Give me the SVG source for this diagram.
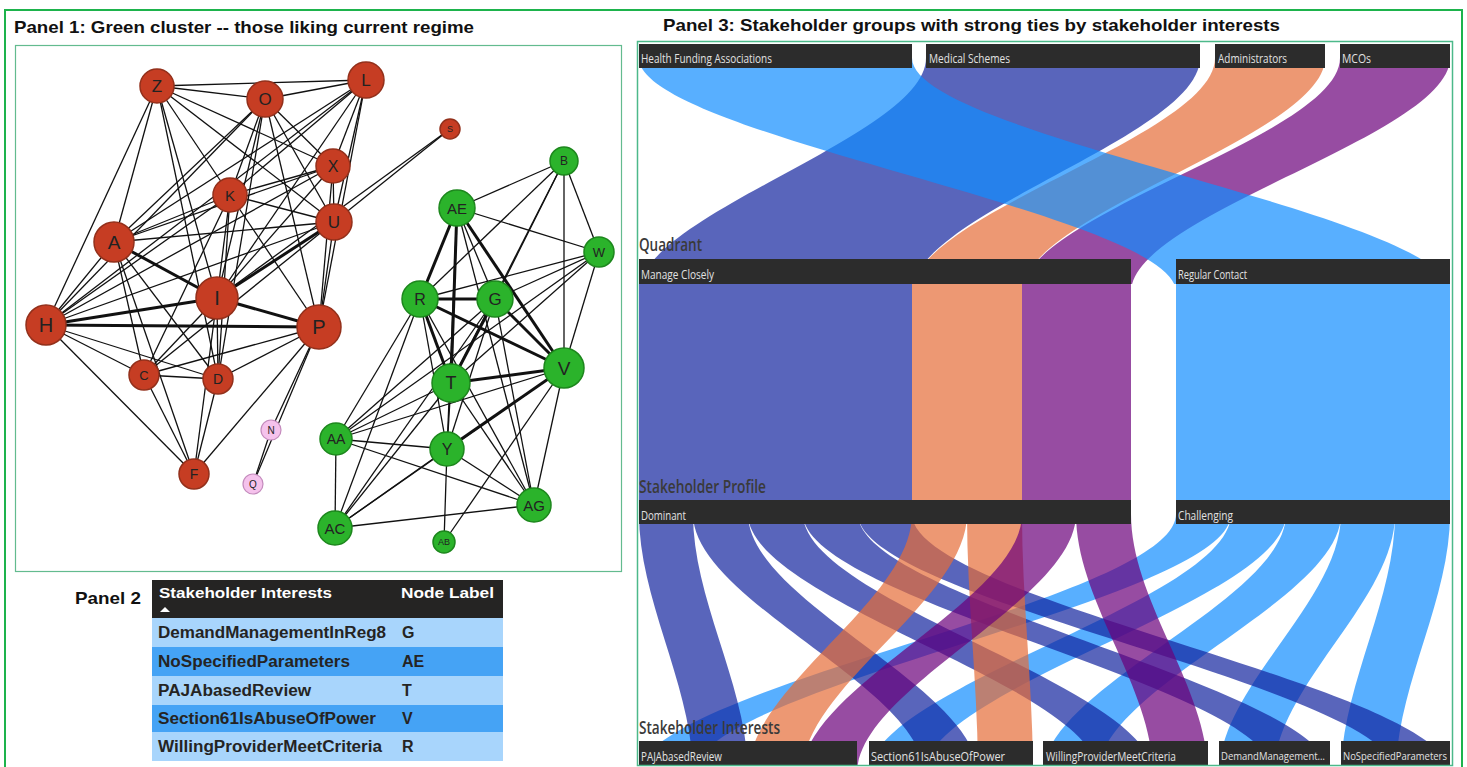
<svg xmlns="http://www.w3.org/2000/svg" width="1467" height="767" viewBox="0 0 1467 767">
<defs>
<style>
.title{font-family:"Liberation Sans",Arial,sans-serif;font-weight:bold;font-size:17px;fill:#111}
.e{stroke:#111;stroke-width:1.3;fill:none}
.t{stroke:#111;stroke-width:3;fill:none}
.nr{fill:#c63d23;stroke:#93301b;stroke-width:1.5}
.ng{fill:#2bb32b;stroke:#1d871d;stroke-width:1.5}
.np{fill:#f5c2ec;stroke:#c48bbd;stroke-width:1.2}
.nl{font-family:"Liberation Sans",Arial,sans-serif;fill:#222;text-anchor:middle;dominant-baseline:central}
.th{font-family:"Liberation Sans",Arial,sans-serif;font-weight:bold;font-size:15px;fill:#fff}
.td{font-family:"Liberation Sans",Arial,sans-serif;font-weight:bold;font-size:16px;fill:#252423}
.bar{fill:#2c2c2c}
.bl{font-family:"Open Sans",sans-serif;font-size:12.5px;fill:#e2e2e2}
.bs{font-family:"Open Sans",sans-serif;font-size:11px;fill:#e2e2e2}
.lv{font-family:"Open Sans",sans-serif;font-weight:600;font-size:18px;fill:#3a3a3a}
.hfa{fill:#118DFF;fill-opacity:.7}
.ms{fill:#12239E;fill-opacity:.7}
.adm{fill:#E66C37;fill-opacity:.7}
.mco{fill:#6B007B;fill-opacity:.7}
</style>
<clipPath id="clipTop"><rect x="637" y="41" width="816" height="243"/></clipPath>
<clipPath id="clipBot"><rect x="637" y="500" width="816" height="266"/></clipPath>
</defs>
<rect x="0" y="0" width="1467" height="767" fill="#fff"/>
<rect x="5" y="10" width="1457" height="762" fill="none" stroke="#1db34c" stroke-width="2"/>

<text class="title" x="14" y="33" textLength="460" lengthAdjust="spacingAndGlyphs">Panel 1: Green cluster -- those liking current regime</text>
<text class="title" x="663" y="31" textLength="617" lengthAdjust="spacingAndGlyphs">Panel 3: Stakeholder groups with strong ties by stakeholder interests</text>

<rect x="15.5" y="45.5" width="606" height="526" fill="#fff" stroke="#63bb8f" stroke-width="1.2"/>

<g id="connectors">
<g id="edges-red">
<line class="e" x1="157" y1="86" x2="265" y2="99"/>
<line class="e" x1="157" y1="86" x2="366" y2="80"/>
<line class="e" x1="157" y1="86" x2="333" y2="166"/>
<line class="e" x1="157" y1="86" x2="334" y2="222"/>
<line class="e" x1="157" y1="86" x2="230" y2="195"/>
<line class="e" x1="157" y1="86" x2="217" y2="298"/>
<line class="e" x1="157" y1="86" x2="114" y2="242"/>
<line class="e" x1="157" y1="86" x2="46" y2="325"/>
<line class="e" x1="157" y1="86" x2="218" y2="379"/>
<line class="e" x1="265" y1="99" x2="366" y2="80"/>
<line class="e" x1="265" y1="99" x2="230" y2="195"/>
<line class="e" x1="265" y1="99" x2="114" y2="242"/>
<line class="e" x1="265" y1="99" x2="46" y2="325"/>
<line class="e" x1="265" y1="99" x2="217" y2="298"/>
<line class="e" x1="265" y1="99" x2="333" y2="166"/>
<line class="e" x1="265" y1="99" x2="334" y2="222"/>
<line class="e" x1="265" y1="99" x2="319" y2="327"/>
<line class="e" x1="265" y1="99" x2="218" y2="379"/>
<line class="e" x1="366" y1="80" x2="333" y2="166"/>
<line class="e" x1="366" y1="80" x2="334" y2="222"/>
<line class="e" x1="366" y1="80" x2="230" y2="195"/>
<line class="e" x1="366" y1="80" x2="114" y2="242"/>
<line class="e" x1="366" y1="80" x2="46" y2="325"/>
<line class="e" x1="366" y1="80" x2="319" y2="327"/>
<line class="e" x1="366" y1="80" x2="217" y2="298"/>
<line class="e" x1="333" y1="166" x2="230" y2="195"/>
<line class="e" x1="333" y1="166" x2="114" y2="242"/>
<line class="e" x1="333" y1="166" x2="334" y2="222"/>
<line class="e" x1="333" y1="166" x2="319" y2="327"/>
<line class="e" x1="333" y1="166" x2="46" y2="325"/>
<line class="e" x1="333" y1="166" x2="217" y2="298"/>
<line class="e" x1="230" y1="195" x2="114" y2="242"/>
<line class="e" x1="230" y1="195" x2="334" y2="222"/>
<line class="e" x1="230" y1="195" x2="217" y2="298"/>
<line class="e" x1="230" y1="195" x2="46" y2="325"/>
<line class="e" x1="230" y1="195" x2="319" y2="327"/>
<line class="e" x1="230" y1="195" x2="144" y2="375"/>
<line class="e" x1="230" y1="195" x2="218" y2="379"/>
<line class="e" x1="334" y1="222" x2="114" y2="242"/>
<line class="e" x1="334" y1="222" x2="46" y2="325"/>
<line class="e" x1="334" y1="222" x2="319" y2="327"/>
<line class="e" x1="334" y1="222" x2="450" y2="129"/>
<line class="e" x1="334" y1="222" x2="144" y2="375"/>
<line class="e" x1="450" y1="129" x2="217" y2="298"/>
<line class="e" x1="114" y1="242" x2="46" y2="325"/>
<line class="e" x1="114" y1="242" x2="144" y2="375"/>
<line class="e" x1="114" y1="242" x2="218" y2="379"/>
<line class="e" x1="114" y1="242" x2="194" y2="474"/>
<line class="e" x1="217" y1="298" x2="144" y2="375"/>
<line class="e" x1="217" y1="298" x2="218" y2="379"/>
<line class="e" x1="217" y1="298" x2="194" y2="474"/>
<line class="e" x1="46" y1="325" x2="144" y2="375"/>
<line class="e" x1="46" y1="325" x2="218" y2="379"/>
<line class="e" x1="46" y1="325" x2="194" y2="474"/>
<line class="e" x1="319" y1="327" x2="144" y2="375"/>
<line class="e" x1="319" y1="327" x2="218" y2="379"/>
<line class="e" x1="319" y1="327" x2="194" y2="474"/>
<line class="e" x1="319" y1="327" x2="271" y2="430"/>
<line class="e" x1="319" y1="327" x2="253" y2="484"/>
<line class="e" x1="144" y1="375" x2="218" y2="379"/>
<line class="e" x1="144" y1="375" x2="194" y2="474"/>
<line class="e" x1="218" y1="379" x2="194" y2="474"/>
<line class="e" x1="271" y1="430" x2="253" y2="484"/>
<line class="t" x1="217" y1="298" x2="334" y2="222"/>
<line class="t" x1="114" y1="242" x2="217" y2="298"/>
<line class="t" x1="217" y1="298" x2="319" y2="327"/>
<line class="t" x1="46" y1="325" x2="217" y2="298"/>
<line class="t" x1="46" y1="325" x2="319" y2="327"/>
</g>
<g id="edges-green">
<line class="e" x1="564" y1="161" x2="457" y2="208"/>
<line class="e" x1="564" y1="161" x2="599" y2="252"/>
<line class="e" x1="564" y1="161" x2="564" y2="368"/>
<line class="e" x1="564" y1="161" x2="420" y2="299"/>
<line class="e" x1="564" y1="161" x2="495" y2="299"/>
<line class="e" x1="564" y1="161" x2="451" y2="383"/>
<line class="e" x1="457" y1="208" x2="599" y2="252"/>
<line class="e" x1="457" y1="208" x2="495" y2="299"/>
<line class="e" x1="457" y1="208" x2="534" y2="505"/>
<line class="e" x1="457" y1="208" x2="447" y2="449"/>
<line class="e" x1="599" y1="252" x2="420" y2="299"/>
<line class="e" x1="599" y1="252" x2="495" y2="299"/>
<line class="e" x1="599" y1="252" x2="564" y2="368"/>
<line class="e" x1="599" y1="252" x2="451" y2="383"/>
<line class="e" x1="599" y1="252" x2="336" y2="439"/>
<line class="e" x1="420" y1="299" x2="336" y2="439"/>
<line class="e" x1="420" y1="299" x2="335" y2="528"/>
<line class="e" x1="420" y1="299" x2="447" y2="449"/>
<line class="e" x1="420" y1="299" x2="534" y2="505"/>
<line class="e" x1="495" y1="299" x2="336" y2="439"/>
<line class="e" x1="495" y1="299" x2="335" y2="528"/>
<line class="e" x1="495" y1="299" x2="534" y2="505"/>
<line class="e" x1="495" y1="299" x2="447" y2="449"/>
<line class="e" x1="451" y1="383" x2="336" y2="439"/>
<line class="e" x1="451" y1="383" x2="335" y2="528"/>
<line class="e" x1="451" y1="383" x2="447" y2="449"/>
<line class="e" x1="451" y1="383" x2="534" y2="505"/>
<line class="e" x1="564" y1="368" x2="336" y2="439"/>
<line class="e" x1="564" y1="368" x2="335" y2="528"/>
<line class="e" x1="564" y1="368" x2="534" y2="505"/>
<line class="e" x1="564" y1="368" x2="444" y2="542"/>
<line class="e" x1="336" y1="439" x2="447" y2="449"/>
<line class="e" x1="336" y1="439" x2="335" y2="528"/>
<line class="e" x1="336" y1="439" x2="534" y2="505"/>
<line class="e" x1="447" y1="449" x2="335" y2="528"/>
<line class="e" x1="447" y1="449" x2="444" y2="542"/>
<line class="e" x1="447" y1="449" x2="534" y2="505"/>
<line class="e" x1="335" y1="528" x2="534" y2="505"/>
<line class="t" x1="457" y1="208" x2="420" y2="299"/>
<line class="t" x1="457" y1="208" x2="451" y2="383"/>
<line class="t" x1="457" y1="208" x2="564" y2="368"/>
<line class="t" x1="420" y1="299" x2="495" y2="299"/>
<line class="t" x1="420" y1="299" x2="451" y2="383"/>
<line class="t" x1="420" y1="299" x2="564" y2="368"/>
<line class="t" x1="495" y1="299" x2="451" y2="383"/>
<line class="t" x1="495" y1="299" x2="564" y2="368"/>
<line class="t" x1="451" y1="383" x2="564" y2="368"/>
<line class="t" x1="564" y1="368" x2="447" y2="449"/>
</g>
</g>

<g id="node-Z"><circle class="nr" cx="157" cy="86" r="17"/><text class="nl" x="157" y="86" font-size="17">Z</text></g>
<g id="node-O"><circle class="nr" cx="265" cy="99" r="18"/><text class="nl" x="265" y="99" font-size="17">O</text></g>
<g id="node-L"><circle class="nr" cx="366" cy="80" r="18"/><text class="nl" x="366" y="80" font-size="17">L</text></g>
<g id="node-S"><circle class="nr" cx="450" cy="129" r="10"/><text class="nl" x="450" y="129" font-size="9">S</text></g>
<g id="node-X"><circle class="nr" cx="333" cy="166" r="17"/><text class="nl" x="333" y="166" font-size="16">X</text></g>
<g id="node-K"><circle class="nr" cx="230" cy="195" r="17"/><text class="nl" x="230" y="195" font-size="15">K</text></g>
<g id="node-U"><circle class="nr" cx="334" cy="222" r="18"/><text class="nl" x="334" y="222" font-size="17">U</text></g>
<g id="node-A"><circle class="nr" cx="114" cy="242" r="20"/><text class="nl" x="114" y="242" font-size="19">A</text></g>
<g id="node-I"><circle class="nr" cx="217" cy="298" r="21"/><text class="nl" x="217" y="298" font-size="20">I</text></g>
<g id="node-H"><circle class="nr" cx="46" cy="325" r="20"/><text class="nl" x="46" y="325" font-size="20">H</text></g>
<g id="node-P"><circle class="nr" cx="319" cy="327" r="22"/><text class="nl" x="319" y="327" font-size="20">P</text></g>
<g id="node-C"><circle class="nr" cx="144" cy="375" r="15"/><text class="nl" x="144" y="375" font-size="13">C</text></g>
<g id="node-D"><circle class="nr" cx="218" cy="379" r="15"/><text class="nl" x="218" y="379" font-size="14">D</text></g>
<g id="node-F"><circle class="nr" cx="194" cy="474" r="15"/><text class="nl" x="194" y="474" font-size="14">F</text></g>
<g id="node-N"><circle class="np" cx="271" cy="430" r="10"/><text class="nl" x="271" y="430" font-size="10">N</text></g>
<g id="node-Q"><circle class="np" cx="253" cy="484" r="10"/><text class="nl" x="253" y="484" font-size="10">Q</text></g>
<g id="node-B"><circle class="ng" cx="564" cy="161" r="14"/><text class="nl" x="564" y="161" font-size="12">B</text></g>
<g id="node-AE"><circle class="ng" cx="457" cy="208" r="18"/><text class="nl" x="457" y="208" font-size="15">AE</text></g>
<g id="node-W"><circle class="ng" cx="599" cy="252" r="15"/><text class="nl" x="599" y="252" font-size="13">W</text></g>
<g id="node-R"><circle class="ng" cx="420" cy="299" r="18"/><text class="nl" x="420" y="299" font-size="16">R</text></g>
<g id="node-G"><circle class="ng" cx="495" cy="299" r="18"/><text class="nl" x="495" y="299" font-size="17">G</text></g>
<g id="node-T"><circle class="ng" cx="451" cy="383" r="19"/><text class="nl" x="451" y="383" font-size="18">T</text></g>
<g id="node-V"><circle class="ng" cx="564" cy="368" r="20"/><text class="nl" x="564" y="368" font-size="19">V</text></g>
<g id="node-AA"><circle class="ng" cx="336" cy="439" r="16"/><text class="nl" x="336" y="439" font-size="14">AA</text></g>
<g id="node-Y"><circle class="ng" cx="447" cy="449" r="17"/><text class="nl" x="447" y="449" font-size="16">Y</text></g>
<g id="node-AG"><circle class="ng" cx="534" cy="505" r="17"/><text class="nl" x="534" y="505" font-size="15">AG</text></g>
<g id="node-AC"><circle class="ng" cx="335" cy="528" r="17"/><text class="nl" x="335" y="528" font-size="15">AC</text></g>
<g id="node-AB"><circle class="ng" cx="444" cy="542" r="11"/><text class="nl" x="444" y="542" font-size="9">AB</text></g>

<g id="panel2">
<text class="title" x="75" y="604" textLength="66" lengthAdjust="spacingAndGlyphs">Panel 2</text>
<rect x="152" y="580" width="351" height="38" fill="#252423"/>
<text class="th" x="159" y="598" textLength="173" lengthAdjust="spacingAndGlyphs">Stakeholder Interests</text>
<polygon points="160,612 165,607 170,612" fill="#fff"/>
<text class="th" x="401" y="598" textLength="93" lengthAdjust="spacingAndGlyphs">Node Label</text>
<rect x="152" y="618" width="351" height="29" fill="#a8d5fc"/>
<rect x="152" y="647" width="351" height="29" fill="#45a3f5"/>
<rect x="152" y="676" width="351" height="29" fill="#a8d5fc"/>
<rect x="152" y="705" width="351" height="27" fill="#45a3f5"/>
<rect x="152" y="732" width="351" height="29" fill="#a8d5fc"/>
<text class="td" x="158" y="638" textLength="228" lengthAdjust="spacingAndGlyphs">DemandManagementInReg8</text>
<text class="td" x="402" y="638">G</text>
<text class="td" x="158" y="667" textLength="192" lengthAdjust="spacingAndGlyphs">NoSpecifiedParameters</text>
<text class="td" x="402" y="667">AE</text>
<text class="td" x="158" y="696" textLength="153" lengthAdjust="spacingAndGlyphs">PAJAbasedReview</text>
<text class="td" x="402" y="696">T</text>
<text class="td" x="158" y="724" textLength="218" lengthAdjust="spacingAndGlyphs">Section61IsAbuseOfPower</text>
<text class="td" x="402" y="724">V</text>
<text class="td" x="158" y="752" textLength="224" lengthAdjust="spacingAndGlyphs">WillingProviderMeetCriteria</text>
<text class="td" x="402" y="752">R</text>
</g>

<g id="sankey-links">
<g clip-path="url(#clipTop)">
<path class="ms" d="M926,58 C926,136 639,214 639,292 L912,292 C912,214 1200,136 1200,58 Z"/>
<path class="adm" d="M1215,58 C1215,136 912,214 912,292 L1022,292 C1022,214 1325,136 1325,58 Z"/>
<path class="mco" d="M1340,58 C1340,136 1022,214 1022,292 L1131,292 C1131,214 1450,136 1450,58 Z"/>
<path class="hfa" d="M639,58 C639,136 1176,214 1176,292 L1450,292 C1450,214 912,136 912,58 Z"/>
</g>
<rect class="ms" x="639" y="280" width="273" height="224"/>
<rect class="adm" x="912" y="280" width="110" height="224"/>
<rect class="mco" x="1022" y="280" width="109" height="224"/>
<rect class="hfa" x="1176" y="280" width="274" height="224"/>
<g clip-path="url(#clipBot)">
<path class="hfa" d="M1176,514 C1176,601 639,687 639,774 L693,774 C693,687 1231,601 1231,514 Z"/>
<path class="hfa" d="M1231,514 C1231,601 869,687 869,774 L924,774 C924,687 1286,601 1286,514 Z"/>
<path class="hfa" d="M1286,514 C1286,601 1043,687 1043,774 L1098,774 C1098,687 1341,601 1341,514 Z"/>
<path class="hfa" d="M1341,514 C1341,601 1219,687 1219,774 L1274,774 C1274,687 1395,601 1395,514 Z"/>
<path class="hfa" d="M1395,514 C1395,601 1341,687 1341,774 L1396,774 C1396,687 1450,601 1450,514 Z"/>
<path class="ms" d="M639,514 C639,601 693,687 693,774 L748,774 C748,687 693,601 693,514 Z"/>
<path class="ms" d="M693,514 C693,601 924,687 924,774 L978,774 C978,687 748,601 748,514 Z"/>
<path class="ms" d="M748,514 C748,601 1098,687 1098,774 L1153,774 C1153,687 803,601 803,514 Z"/>
<path class="ms" d="M803,514 C803,601 1274,687 1274,774 L1330,774 C1330,687 858,601 858,514 Z"/>
<path class="ms" d="M858,514 C858,601 1396,687 1396,774 L1450,774 C1450,687 912,601 912,514 Z"/>
<path class="adm" d="M912,514 C912,601 748,687 748,774 L802,774 C802,687 967,601 967,514 Z"/>
<path class="adm" d="M967,514 C967,601 978,687 978,774 L1033,774 C1033,687 1022,601 1022,514 Z"/>
<path class="mco" d="M1022,514 C1022,601 802,687 802,774 L857,774 C857,687 1076,601 1076,514 Z"/>
<path class="mco" d="M1076,514 C1076,601 1153,687 1153,774 L1208,774 C1208,687 1131,601 1131,514 Z"/>
</g>
</g>

<g id="sankey-level-labels">
<text class="lv" x="639" y="251" textLength="63" lengthAdjust="spacingAndGlyphs">Quadrant</text>
<text class="lv" x="639" y="493" textLength="127" lengthAdjust="spacingAndGlyphs">Stakeholder Profile</text>
<text class="lv" x="639" y="734" textLength="141" lengthAdjust="spacingAndGlyphs">Stakeholder Interests</text>
</g>

<g id="snode-hfa"><rect class="bar" x="639" y="44" width="273" height="24"/><text class="bl" x="641" y="63" textLength="131" lengthAdjust="spacingAndGlyphs">Health Funding Associations</text></g>
<g id="snode-ms"><rect class="bar" x="926" y="44" width="274" height="24"/><text class="bl" x="929" y="63" textLength="81" lengthAdjust="spacingAndGlyphs">Medical Schemes</text></g>
<g id="snode-adm"><rect class="bar" x="1215" y="44" width="110" height="24"/><text class="bl" x="1218" y="63" textLength="69" lengthAdjust="spacingAndGlyphs">Administrators</text></g>
<g id="snode-mco"><rect class="bar" x="1340" y="44" width="110" height="24"/><text class="bl" x="1342" y="63" textLength="29" lengthAdjust="spacingAndGlyphs">MCOs</text></g>
<g id="snode-manage"><rect class="bar" x="639" y="259" width="492" height="25"/><text class="bl" x="641" y="279" textLength="73" lengthAdjust="spacingAndGlyphs">Manage Closely</text></g>
<g id="snode-regular"><rect class="bar" x="1176" y="259" width="274" height="25"/><text class="bl" x="1178" y="279" textLength="69" lengthAdjust="spacingAndGlyphs">Regular Contact</text></g>
<g id="snode-dominant"><rect class="bar" x="639" y="500" width="492" height="24"/><text class="bl" x="641" y="520" textLength="45" lengthAdjust="spacingAndGlyphs">Dominant</text></g>
<g id="snode-challenging"><rect class="bar" x="1176" y="500" width="274" height="24"/><text class="bl" x="1178" y="520" textLength="55" lengthAdjust="spacingAndGlyphs">Challenging</text></g>
<g id="snode-paja"><rect class="bar" x="639" y="741" width="218" height="25"/><text class="bl" x="641" y="761" textLength="81" lengthAdjust="spacingAndGlyphs">PAJAbasedReview</text></g>
<g id="snode-s61"><rect class="bar" x="869" y="741" width="164" height="25"/><text class="bl" x="871" y="761" textLength="134" lengthAdjust="spacingAndGlyphs">Section61IsAbuseOfPower</text></g>
<g id="snode-willing"><rect class="bar" x="1043" y="741" width="165" height="25"/><text class="bl" x="1046" y="761" textLength="130" lengthAdjust="spacingAndGlyphs">WillingProviderMeetCriteria</text></g>
<g id="snode-demand"><rect class="bar" x="1219" y="741" width="111" height="25"/><text class="bs" x="1221" y="760" textLength="104" lengthAdjust="spacingAndGlyphs">DemandManagement…</text></g>
<g id="snode-nospec"><rect class="bar" x="1341" y="741" width="109" height="25"/><text class="bs" x="1343" y="760" textLength="104" lengthAdjust="spacingAndGlyphs">NoSpecifiedParameters</text></g>

<rect x="637.5" y="41.5" width="815" height="724" fill="none" stroke="#4cb98a" stroke-width="1.5"/>
</svg>
